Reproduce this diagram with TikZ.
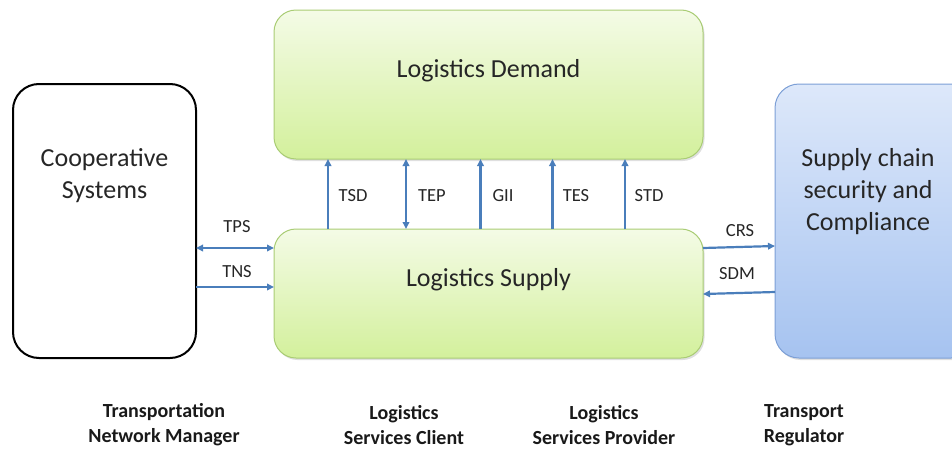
\documentclass[tikz,border=0pt]{standalone}
\usepackage{fontspec}
\setmainfont{Carlito}
\usetikzlibrary{arrows.meta,shadows}
\definecolor{arrowblue}{HTML}{4A7EBB}
\definecolor{greentop}{HTML}{F4FBE6}
\definecolor{greenbot}{HTML}{D3F09C}
\definecolor{greenline}{HTML}{A9CC74}
\definecolor{bluetop}{HTML}{DDE8FA}
\definecolor{bluebot}{HTML}{A6C3F0}
\definecolor{blueline}{HTML}{7C9FD6}
\tikzset{
  bigtext/.style={font=\fontsize{26}{32}\selectfont, align=center, text=black!85},
  greenbox/.style={draw=greenline, line width=1pt, rounded corners=22pt,
    top color=greentop, bottom color=greenbot,
    drop shadow={shadow xshift=1.5pt, shadow yshift=-2pt, fill=black!25, opacity=0.5}},
  bluebox/.style={draw=blueline, line width=1pt, rounded corners=24pt,
    top color=bluetop, bottom color=bluebot,
    drop shadow={shadow xshift=1.5pt, shadow yshift=-2pt, fill=black!25, opacity=0.5}},
  blackbox/.style={draw=black, line width=2pt, rounded corners=26pt, fill=white},
  arr/.style={draw=arrowblue, line width=2.2pt, -{Triangle[length=7pt,width=6.5pt]}},
  biarr/.style={draw=arrowblue, line width=2.2pt, {Triangle[length=7pt,width=6.5pt]}-{Triangle[length=7pt,width=6.5pt]}},
  lbl/.style={font=\fontsize{18.5}{22}\selectfont, text=black!85},
  role/.style={font=\bfseries\fontsize{20}{25}\selectfont, align=center, text=black!90},
}
\begin{document}
\begin{tikzpicture}[x=1pt,y=-1pt]
\useasboundingbox (0,0) rectangle (952,450);

% main blocks
\path[blackbox] (13,84) rectangle (196,358);
\node[bigtext] (coop) at (104.5,176) {Cooperative\\Systems};
\coordinate (coopE) at (196,221);

\path[greenbox] (274,10) rectangle (703,159);
\node[bigtext] (demandtxt) at (488.5,71) {Logistics Demand};
\coordinate (demandS) at (488.5,159);

\path[greenbox] (274,229) rectangle (703,358);
\node[bigtext] (supplytxt) at (488.5,280) {Logistics Supply};
\coordinate (supplyN) at (488.5,229);
\coordinate (supplyW) at (274,293);
\coordinate (supplyE) at (703,293);

\path[bluebox] (775,84) rectangle (975,358);
\node[bigtext] (scsc) at (868,192) {Supply chain\\security and\\Compliance};
\coordinate (scscW) at (775,221);

% vertical interfaces between supply and demand
\draw[arr]   ([xshift=-160.5pt]supplyN) -- ([xshift=-160.5pt]demandS);
\draw[biarr] ([xshift=-82.5pt]supplyN)  -- ([xshift=-82.5pt]demandS);
\draw[arr]   ([xshift=-8pt]supplyN)     -- ([xshift=-8pt]demandS);
\draw[arr]   ([xshift=64pt]supplyN)     -- ([xshift=64pt]demandS);
\draw[arr]   ([xshift=136.5pt]supplyN)  -- ([xshift=136.5pt]demandS);
\node[lbl] (tsd) at (353,196) {TSD};
\node[lbl] (tep) at (432,196) {TEP};
\node[lbl] (gii) at (503,196) {GII};
\node[lbl] (tes) at (576,196) {TES};
\node[lbl] (std) at (649,196) {STD};

% interfaces with cooperative systems (shifts are in page units: negative = down)
\draw[biarr] ([yshift=-27pt]coopE) -- ([yshift=45pt]supplyW);
\draw[arr]   ([yshift=-66pt]coopE) -- ([yshift=6pt]supplyW);
\node[lbl] (tps) at (237,227) {TPS};
\node[lbl] (tns) at (237,272) {TNS};

% interfaces with compliance
\draw[arr] ([yshift=45pt]supplyE) -- ([yshift=-25pt]scscW);
\draw[arr] ([yshift=-71pt]scscW) -- ([yshift=-1pt]supplyE);
\node[lbl] (crs) at (740,231) {CRS};
\node[lbl] (sdm) at (737,274) {SDM};

% roles
\node[role] (tnm) at (164,425) {Transportation\\Network Manager};
\node[role] (lsc) at (404,425) {Logistics\\Services Client};
\node[role] (lsp) at (604,425) {Logistics\\Services Provider};
\node[role] (tr)  at (804,425) {Transport\\Regulator};
\end{tikzpicture}
\end{document}
